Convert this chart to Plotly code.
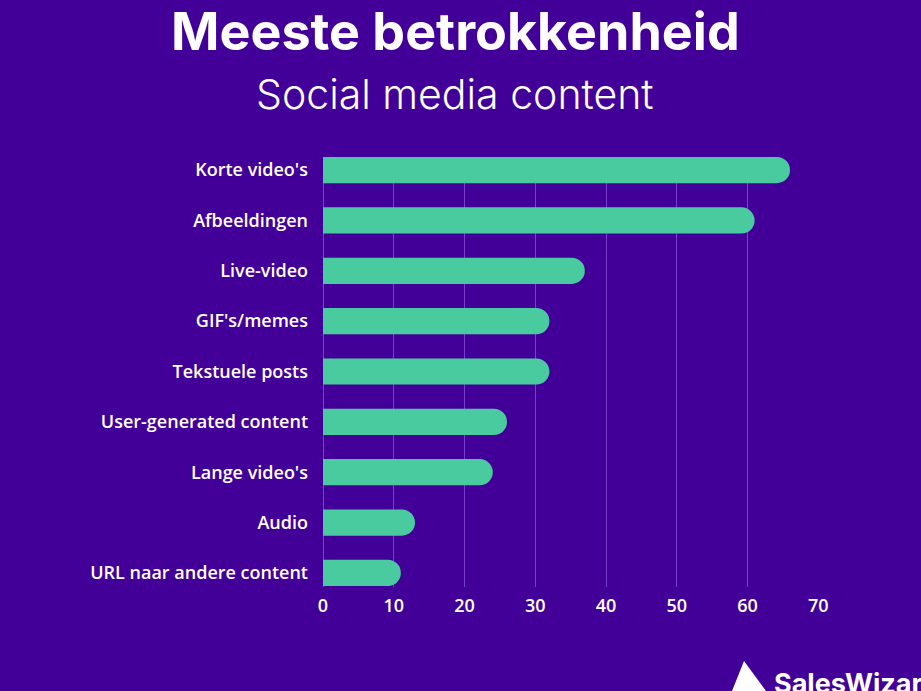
import plotly.graph_objects as go

categories = ["Korte video's", "Afbeeldingen", "Live-video", "GIF's/memes", "Tekstuele posts",
              "User-generated content", "Lange video's", "Audio", "URL naar andere content"]
values = [66, 61, 37, 32, 32, 26, 24, 13, 11]
x_ticks = [0, 10, 20, 30, 40, 50, 60, 70]

BG = "#420098"
BAR = "#4ACB9F"
GRID = "#7440CC"

W, H = 921, 691
L, R, T, B = 323, 819, 157, 587

fig = go.Figure(go.Bar(
    x=values, y=categories, orientation="h",
    marker=dict(color=BAR, line=dict(width=0)),
    width=0.52,
))

fig.update_layout(
    width=W, height=H,
    paper_bgcolor=BG, plot_bgcolor=BG,
    margin=dict(l=L, r=W - R, t=T, b=H - B, pad=0),
    barcornerradius=13,
    showlegend=False,
    font=dict(family="Open Sans", color="white"),
)

fig.update_xaxes(
    range=[0, 70.1], tickvals=x_ticks, ticktext=[str(v) for v in x_ticks],
    showgrid=True, gridcolor=GRID, gridwidth=1,
    zeroline=True, zerolinecolor=GRID, zerolinewidth=1,
    showline=False, ticks="",
    tickfont=dict(family="Open Sans", size=18, color="white", weight=600),
    ticklabelstandoff=6,
)
fig.update_yaxes(
    type="category", categoryorder="array", categoryarray=categories,
    range=[8.28, -0.26],
    showgrid=False, zeroline=False, showline=False, ticks="",
    tickfont=dict(family="Open Sans", size=18, color="white", weight=600),
    ticklabelstandoff=14,
)

def px(x):
    return (x - L) / (R - L)

def py(y):
    return (B - y) / (B - T)

fig.add_annotation(
    text="Meeste betrokkenheid", xref="paper", yref="paper",
    x=px(455), y=py(31), xanchor="center", yanchor="middle", showarrow=False,
    font=dict(family="Inter", size=52, color="white", weight=700),
)
fig.add_annotation(
    text="Social media content", xref="paper", yref="paper",
    x=px(455), y=py(94), xanchor="center", yanchor="middle", showarrow=False,
    font=dict(family="Inter", size=41, color="white", weight=300),
)
fig.add_annotation(
    text="SalesWizard", xref="paper", yref="paper",
    x=px(772), y=py(683), xanchor="left", yanchor="middle", showarrow=False,
    font=dict(family="Inter", size=27, color="white", weight=700),
)
# small wizard-hat logo mark
hat = "M {} {} L {} {} L {} {} Z".format(px(732), py(691), px(744), py(661), px(766), py(691))
fig.add_shape(type="path", path=hat, xref="paper", yref="paper",
              fillcolor="white", line=dict(width=0), layer="above")

fig.write_html("out.html", config={"displayModeBar": False},
               post_script="document.body.style.margin='0';document.body.style.overflow='hidden';")
